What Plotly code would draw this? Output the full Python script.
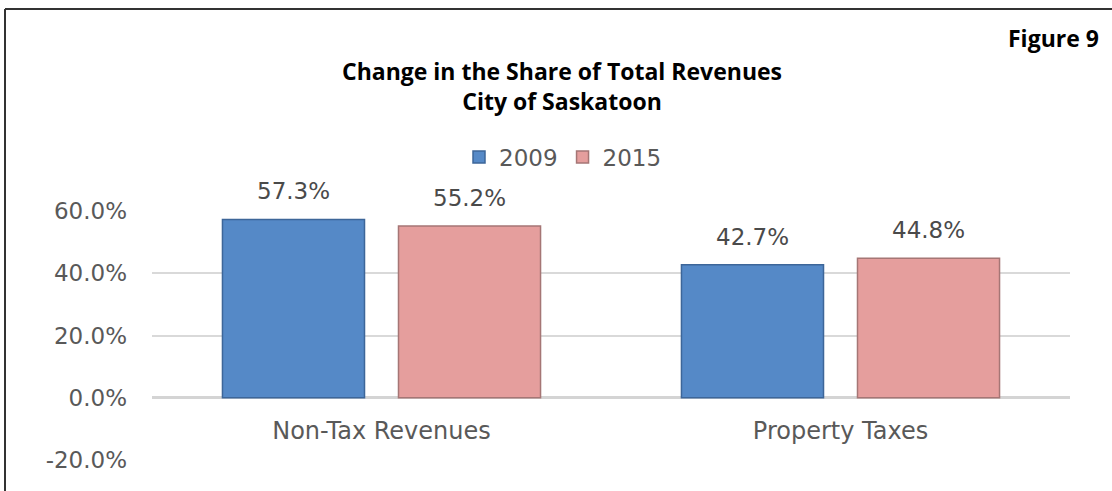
import plotly.graph_objects as go

categories = ["Non-Tax Revenues", "Property Taxes"]
series_names = ["2009", "2015"]
values_2009 = [57.3, 42.7]
values_2015 = [55.2, 44.8]
tick_vals = [-20, 0, 20, 40, 60]
tick_text = ["-20.0%", "0.0%", "20.0%", "40.0%", "60.0%"]

FONT = "DejaVu Sans, sans-serif"
TFONT = "Open Sans"
GRAY = "#595959"
colors = {"2009": "#5589C7", "2015": "#E59E9D"}
edge = {"2009": "#3D6699", "2015": "#A57675"}

W, H = 1112, 491
L, R, T, B = 152, 42, 211, 31
PW, PH = W - L - R, H - T - B

def px(x):
    return (x - L) / PW

def py(y):
    return 1 + (T - y) / PH

fig = go.Figure()
for name, vals in zip(series_names, [values_2009, values_2015]):
    fig.add_trace(go.Bar(
        x=categories, y=vals, name=name,
        marker=dict(color=colors[name], line=dict(color=edge[name], width=1.5)),
        cliponaxis=False,
    ))

# data labels
for i, (name, vals) in enumerate(zip(series_names, [values_2009, values_2015])):
    for c, v in zip(categories, vals):
        fig.add_annotation(
            x=c, y=v, text=f"{v:.1f}%", showarrow=False,
            xshift=(-88 if i == 0 else 88), yshift=28,
            font=dict(family=FONT, size=23, color="#4a4a4a"),
        )

fig.update_layout(
    width=W, height=H,
    margin=dict(l=L, r=R, t=T, b=B),
    paper_bgcolor="white", plot_bgcolor="white",
    barmode="group", bargap=0.233, bargroupgap=0.193,
    showlegend=True,
    legend=dict(orientation="h", x=px(563), xanchor="center", y=py(157), yanchor="middle",
                font=dict(family=FONT, size=23, color=GRAY),
                itemwidth=30, tracegroupgap=0),
    xaxis=dict(anchor="free", position=0.25, showline=False, ticks="",
               tickfont=dict(family=FONT, size=24, color=GRAY),
               ticklabelstandoff=16, showgrid=False),
    yaxis=dict(range=[-20, 60], tickvals=tick_vals, ticktext=tick_text,
               showgrid=True, gridcolor="#D9D9D9", gridwidth=1.5,
               zeroline=True, zerolinecolor="#D4D4D4", zerolinewidth=2.5,
               tickfont=dict(family=FONT, size=23, color=GRAY),
               ticklabelstandoff=24, showline=False, ticks=""),
)

# title
fig.add_annotation(xref="paper", yref="paper", x=px(562), y=py(86),
                   text="<b>Change in the Share of Total Revenues<br>City of Saskatoon</b>",
                   showarrow=False, xanchor="center", yanchor="middle",
                   font=dict(family=TFONT, size=23, color="black"))
fig.add_annotation(xref="paper", yref="paper", x=px(1101), y=py(38),
                   text="<b>Figure 9</b>", showarrow=False, xanchor="right", yanchor="middle",
                   font=dict(family=TFONT, size=23, color="black"))

# frame (left and top border)
fig.add_shape(type="line", xref="paper", yref="paper", x0=px(5), x1=px(5), y0=py(495), y1=py(9),
              line=dict(color="#333333", width=2))
fig.add_shape(type="line", xref="paper", yref="paper", x0=px(5), x1=px(1115), y0=py(9), y1=py(9),
              line=dict(color="#333333", width=2))

fig.write_html("out.html", config={"displayModeBar": False},
               post_script="document.body.style.margin='0';")
